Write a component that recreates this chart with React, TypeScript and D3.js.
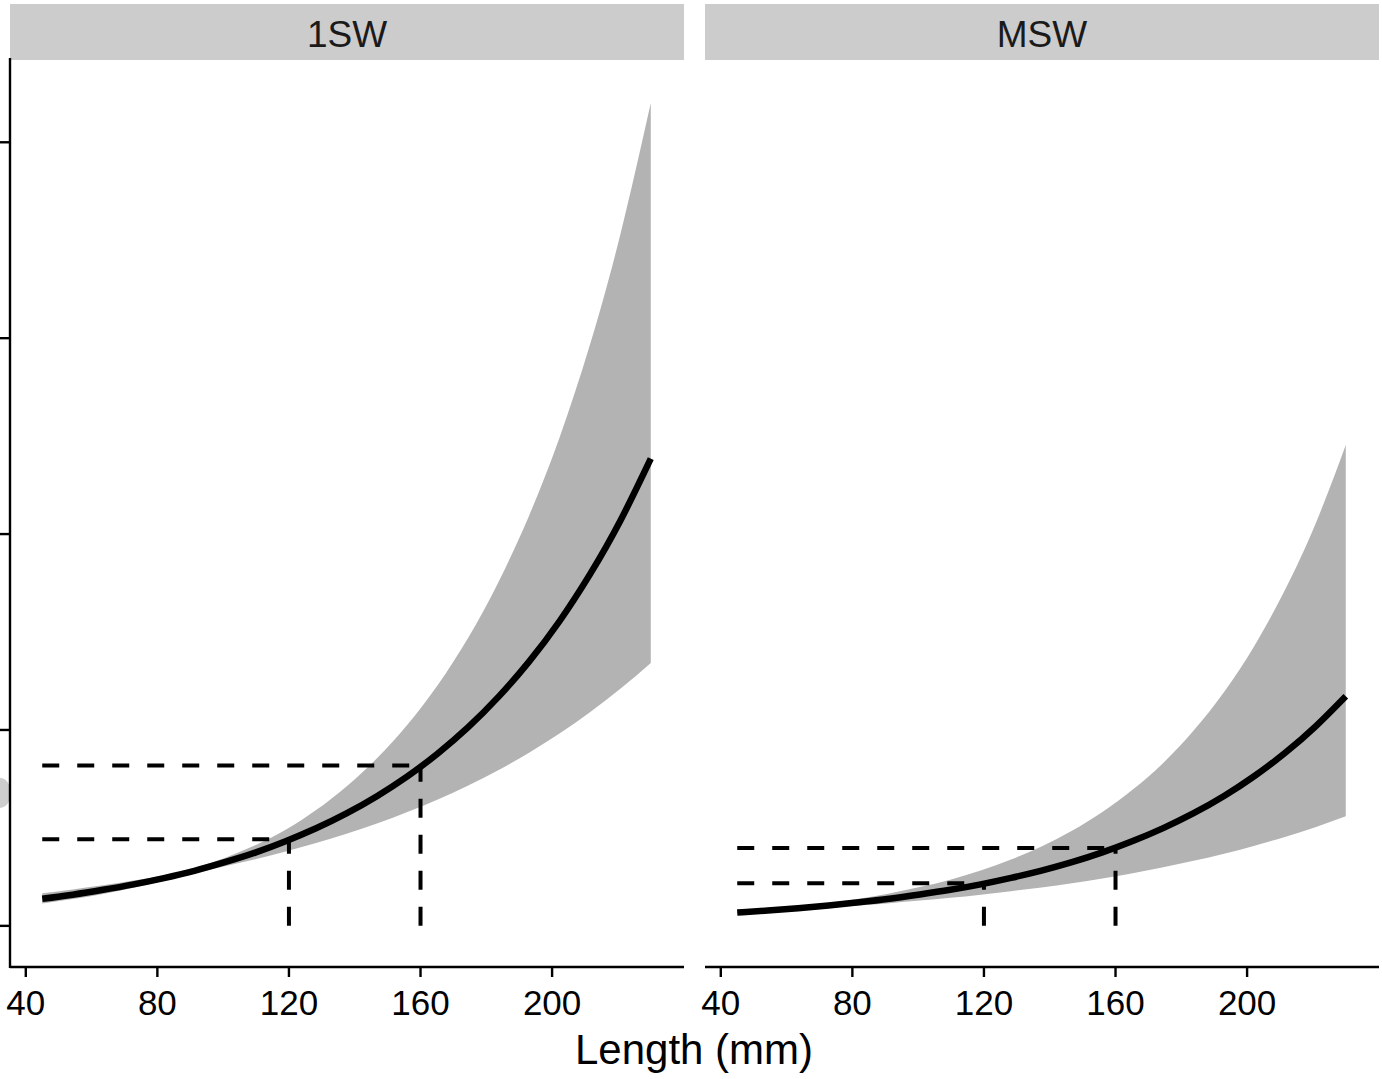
import React from "react";
import * as d3 from "d3";

// values (evenly spaced lengths, 45 to 230 mm)
const lengths = [45, 54.25, 63.5, 72.75, 82, 91.25, 100.5, 109.75, 119, 128.25, 137.5,
  146.75, 156, 165.25, 174.5, 183.75, 193, 202.25, 211.5, 220.75, 230];

const fit1SW = [0.138, 0.159, 0.184, 0.212, 0.244, 0.281, 0.325, 0.374, 0.432, 0.498, 0.574,
  0.662, 0.763, 0.88, 1.014, 1.17, 1.349, 1.555, 1.794, 2.068, 2.385];
const upper1SW = [0.167, 0.186, 0.207, 0.231, 0.259, 0.296, 0.347, 0.411, 0.49, 0.591, 0.712,
  0.856, 1.027, 1.23, 1.471, 1.757, 2.094, 2.492, 2.966, 3.529, 4.2];
const lower1SW = [0.114, 0.137, 0.163, 0.194, 0.23, 0.268, 0.304, 0.34, 0.38, 0.423, 0.47,
  0.522, 0.581, 0.645, 0.717, 0.796, 0.884, 0.982, 1.091, 1.21, 1.342];

const fitMSW = [0.068, 0.0783, 0.0903, 0.104, 0.12, 0.138, 0.16, 0.184, 0.212, 0.245, 0.282,
  0.325, 0.375, 0.433, 0.499, 0.575, 0.663, 0.765, 0.882, 1.017, 1.172];
const upperMSW = [0.072, 0.0826, 0.097, 0.116, 0.138, 0.165, 0.198, 0.236, 0.283, 0.339, 0.405,
  0.485, 0.581, 0.696, 0.832, 0.997, 1.194, 1.43, 1.714, 2.05, 2.455];
const lowerMSW = [0.064, 0.0743, 0.084, 0.0936, 0.104, 0.116, 0.129, 0.143, 0.159, 0.177, 0.196,
  0.218, 0.242, 0.269, 0.299, 0.332, 0.368, 0.409, 0.454, 0.504, 0.56];

const refLengths = [120, 160];
const ref1SW = [0.442, 0.819];
const refMSW = [0.218, 0.398];

const xTicks = [40, 80, 120, 160, 200];
const yTicks = [0, 1, 2, 3, 4];

const panels = [
  { name: "1SW", fit: fit1SW, upper: upper1SW, lower: lower1SW, ref: ref1SW, x0: 10, x1: 684, yAxis: true },
  { name: "MSW", fit: fitMSW, upper: upperMSW, lower: lowerMSW, ref: refMSW, x0: 705, x1: 1379, yAxis: false },
];

const W = 1382;
const H = 1079;
const top = 60;
const bottom = 967;
const font = "'Liberation Sans', Arial, sans-serif";

function Panel({ p }) {
  const x = d3.scaleLinear().domain([35.2, 240.1]).range([p.x0, p.x1]);
  const y = d3.scaleLinear().domain([-0.21, 4.42]).range([bottom, top]);

  const rows = lengths.map((l, i) => ({ l, fit: p.fit[i], up: p.upper[i], lo: p.lower[i] }));

  const area = d3.area()
    .x((d) => x(d.l))
    .y0((d) => y(d.lo))
    .y1((d) => y(d.up))
    .curve(d3.curveNatural);

  const line = d3.line()
    .x((d) => x(d.l))
    .y((d) => y(d.fit))
    .curve(d3.curveNatural);

  return (
    <g>
      {/* strip */}
      <rect x={p.x0} y={4} width={p.x1 - p.x0} height={56} fill="#cccccc" />
      <text x={(p.x0 + p.x1) / 2} y={47} textAnchor="middle" fontSize={37} fill="#1a1a1a" fontFamily={font}>
        {p.name}
      </text>

      <path d={area(rows)} fill="#b3b3b3" />
      <path d={line(rows)} fill="none" stroke="#000" strokeWidth={6.5} />

      {refLengths.map((l, i) => (
        <g key={l}>
          <line x1={x(45)} x2={x(l)} y1={y(p.ref[i])} y2={y(p.ref[i])}
            stroke="#000" strokeWidth={4} strokeDasharray="17 18" />
          <line x1={x(l)} x2={x(l)} y1={y(0)} y2={y(p.ref[i])}
            stroke="#000" strokeWidth={4} strokeDasharray="19 17" />
        </g>
      ))}

      {/* x axis */}
      <line x1={p.x0} x2={p.x1} y1={bottom} y2={bottom} stroke="#000" strokeWidth={2.4} />
      {xTicks.map((t) => (
        <g key={t}>
          <line x1={x(t)} x2={x(t)} y1={bottom} y2={bottom + 10} stroke="#000" strokeWidth={2.4} />
          <text x={x(t)} y={1015} textAnchor="middle" fontSize={35} fill="#000" fontFamily={font}>
            {t}
          </text>
        </g>
      ))}

      {/* y axis, only on the first panel */}
      {p.yAxis && (
        <g>
          <ellipse cx={0} cy={793} rx={11} ry={15} fill="#cdcdcd" />
          <line x1={p.x0} x2={p.x0} y1={top - 2} y2={bottom + 1} stroke="#000" strokeWidth={2.4} />
          {yTicks.map((t) => (
            <line key={t} x1={p.x0 - 10} x2={p.x0} y1={y(t)} y2={y(t)} stroke="#000" strokeWidth={2.4} />
          ))}
        </g>
      )}
    </g>
  );
}

export default function App() {
  return (
    <svg width={W} height={H} viewBox={`0 0 ${W} ${H}`}
      style={{ position: "absolute", left: 0, top: 0, background: "#fff" }}>
      <rect width={W} height={H} fill="#fff" />
      {panels.map((p) => (
        <Panel key={p.name} p={p} />
      ))}
      <text x={694} y={1064} textAnchor="middle" fontSize={42} fill="#000" fontFamily={font}>
        Length (mm)
      </text>
    </svg>
  );
}
